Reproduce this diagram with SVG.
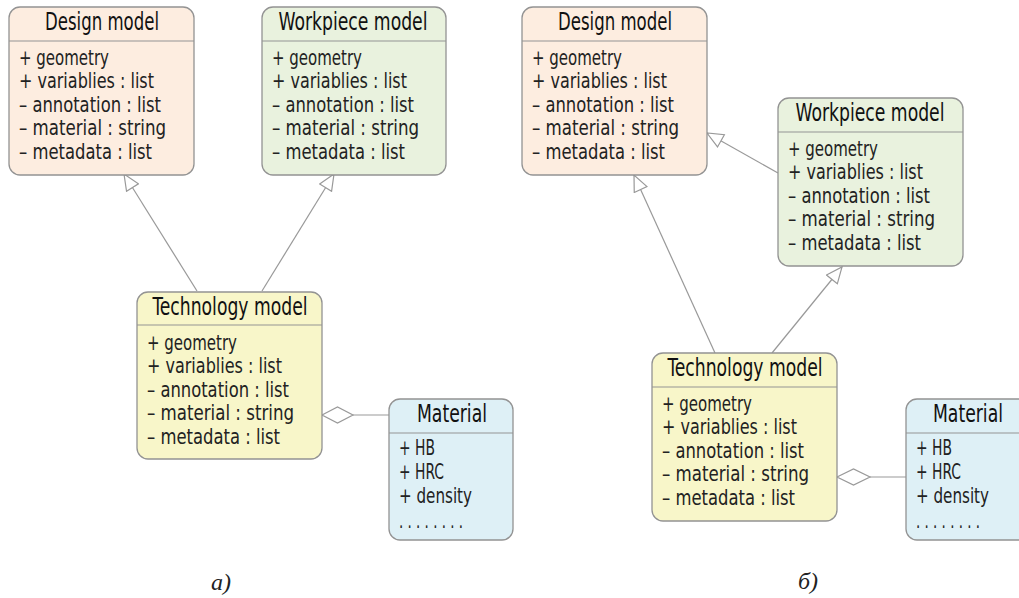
<svg xmlns="http://www.w3.org/2000/svg" width="1019" height="598" viewBox="0 0 1019 598">
<style>
.box{stroke:#939393;stroke-width:1.3}
.sep{stroke:#939393;stroke-width:1.2}
.design{fill:#fdede0}
.work{fill:#e9f2de}
.tech{fill:#f8f6c9}
.mat{fill:#def0f6}
.title{font-family:"DejaVu Sans Condensed","Liberation Sans Narrow","Liberation Sans",sans-serif;font-size:24px;fill:#111;text-anchor:middle}
.row{font-family:"DejaVu Sans Condensed","Liberation Sans Narrow","Liberation Sans",sans-serif;font-size:22px;fill:#222}
.conn line{stroke:#999;stroke-width:1.2;fill:none}
.dia{fill:#fff;stroke:#999;stroke-width:1.2}
.cap{font-family:"Liberation Serif",serif;font-style:italic;font-size:24px;fill:#222}
</style>
<defs>
<marker id="tri" markerUnits="userSpaceOnUse" viewBox="0 0 18 16" markerWidth="18" markerHeight="16" refX="17" refY="8" orient="auto">
<path d="M1,1 L17,8 L1,15 Z" fill="#fff" stroke="#999" stroke-width="1.2"/>
</marker>
</defs>

<g id="connectors" class="conn">
<line x1="197" y1="291" x2="124" y2="174" marker-end="url(#tri)"/>
<line x1="262" y1="291" x2="334" y2="174" marker-end="url(#tri)"/>
<line x1="353" y1="415" x2="389" y2="415"/>
<polygon class="dia" points="322,415 337.5,407 353,415 337.5,423"/>
<line x1="715" y1="353" x2="634" y2="175" marker-end="url(#tri)"/>
<line x1="778" y1="173" x2="707" y2="133" marker-end="url(#tri)"/>
<line x1="772" y1="353" x2="842" y2="267" marker-end="url(#tri)"/>
<line x1="870" y1="477" x2="906" y2="477"/>
<polygon class="dia" points="837,477 853.5,469 870,477 853.5,485"/>
</g>

<g id="design-a">
<rect class="box design" x="9" y="7" width="185" height="168" rx="11"/>
<line class="sep" x1="9" y1="41" x2="194" y2="41"/>
<text class="title" x="102" y="30" textLength="114" lengthAdjust="spacingAndGlyphs">Design model</text>
<text class="row" x="19" y="65" textLength="90" lengthAdjust="spacingAndGlyphs">+ geometry</text>
<text class="row" x="19" y="88" textLength="135" lengthAdjust="spacingAndGlyphs">+ variablies : list</text>
<text class="row" x="19" y="112" textLength="142" lengthAdjust="spacingAndGlyphs">– annotation : list</text>
<text class="row" x="19" y="135" textLength="147" lengthAdjust="spacingAndGlyphs">– material : string</text>
<text class="row" x="19" y="159" textLength="133" lengthAdjust="spacingAndGlyphs">– metadata : list</text>
</g>

<g id="workpiece-a">
<rect class="box work" x="262" y="7" width="184" height="168" rx="11"/>
<line class="sep" x1="262" y1="41" x2="446" y2="41"/>
<text class="title" x="353" y="30" textLength="149" lengthAdjust="spacingAndGlyphs">Workpiece model</text>
<text class="row" x="272" y="65" textLength="90" lengthAdjust="spacingAndGlyphs">+ geometry</text>
<text class="row" x="272" y="88" textLength="135" lengthAdjust="spacingAndGlyphs">+ variablies : list</text>
<text class="row" x="272" y="112" textLength="142" lengthAdjust="spacingAndGlyphs">– annotation : list</text>
<text class="row" x="272" y="135" textLength="147" lengthAdjust="spacingAndGlyphs">– material : string</text>
<text class="row" x="272" y="159" textLength="133" lengthAdjust="spacingAndGlyphs">– metadata : list</text>
</g>

<g id="technology-a">
<rect class="box tech" x="137" y="292" width="185" height="167" rx="11"/>
<line class="sep" x1="137" y1="325" x2="322" y2="325"/>
<text class="title" x="230" y="315" textLength="155" lengthAdjust="spacingAndGlyphs">Technology model</text>
<text class="row" x="147" y="350" textLength="90" lengthAdjust="spacingAndGlyphs">+ geometry</text>
<text class="row" x="147" y="373" textLength="135" lengthAdjust="spacingAndGlyphs">+ variablies : list</text>
<text class="row" x="147" y="397" textLength="142" lengthAdjust="spacingAndGlyphs">– annotation : list</text>
<text class="row" x="147" y="420" textLength="147" lengthAdjust="spacingAndGlyphs">– material : string</text>
<text class="row" x="147" y="444" textLength="133" lengthAdjust="spacingAndGlyphs">– metadata : list</text>
</g>

<g id="material-a">
<rect class="box mat" x="389" y="399" width="124" height="141" rx="11"/>
<line class="sep" x1="389" y1="433" x2="513" y2="433"/>
<text class="title" x="452" y="422" textLength="70" lengthAdjust="spacingAndGlyphs">Material</text>
<text class="row" x="399" y="455" textLength="36" lengthAdjust="spacingAndGlyphs">+ HB</text>
<text class="row" x="399" y="479" textLength="45" lengthAdjust="spacingAndGlyphs">+ HRC</text>
<text class="row" x="399" y="503" textLength="73" lengthAdjust="spacingAndGlyphs">+ density</text>
<text class="row" x="399" y="528" textLength="64" lengthAdjust="spacingAndGlyphs">. . . . . . . .</text>
</g>

<g id="design-b">
<rect class="box design" x="522" y="7" width="185" height="168" rx="11"/>
<line class="sep" x1="522" y1="41" x2="707" y2="41"/>
<text class="title" x="615" y="30" textLength="114" lengthAdjust="spacingAndGlyphs">Design model</text>
<text class="row" x="532" y="65" textLength="90" lengthAdjust="spacingAndGlyphs">+ geometry</text>
<text class="row" x="532" y="88" textLength="135" lengthAdjust="spacingAndGlyphs">+ variablies : list</text>
<text class="row" x="532" y="112" textLength="142" lengthAdjust="spacingAndGlyphs">– annotation : list</text>
<text class="row" x="532" y="135" textLength="147" lengthAdjust="spacingAndGlyphs">– material : string</text>
<text class="row" x="532" y="159" textLength="133" lengthAdjust="spacingAndGlyphs">– metadata : list</text>
</g>

<g id="workpiece-b">
<rect class="box work" x="778" y="98" width="185" height="168" rx="11"/>
<line class="sep" x1="778" y1="132" x2="963" y2="132"/>
<text class="title" x="870" y="121" textLength="149" lengthAdjust="spacingAndGlyphs">Workpiece model</text>
<text class="row" x="788" y="156" textLength="90" lengthAdjust="spacingAndGlyphs">+ geometry</text>
<text class="row" x="788" y="179" textLength="135" lengthAdjust="spacingAndGlyphs">+ variablies : list</text>
<text class="row" x="788" y="203" textLength="142" lengthAdjust="spacingAndGlyphs">– annotation : list</text>
<text class="row" x="788" y="226" textLength="147" lengthAdjust="spacingAndGlyphs">– material : string</text>
<text class="row" x="788" y="250" textLength="133" lengthAdjust="spacingAndGlyphs">– metadata : list</text>
</g>

<g id="technology-b">
<rect class="box tech" x="652" y="353" width="185" height="168" rx="11"/>
<line class="sep" x1="652" y1="387" x2="837" y2="387"/>
<text class="title" x="745" y="376" textLength="155" lengthAdjust="spacingAndGlyphs">Technology model</text>
<text class="row" x="662" y="411" textLength="90" lengthAdjust="spacingAndGlyphs">+ geometry</text>
<text class="row" x="662" y="434" textLength="135" lengthAdjust="spacingAndGlyphs">+ variablies : list</text>
<text class="row" x="662" y="458" textLength="142" lengthAdjust="spacingAndGlyphs">– annotation : list</text>
<text class="row" x="662" y="481" textLength="147" lengthAdjust="spacingAndGlyphs">– material : string</text>
<text class="row" x="662" y="505" textLength="133" lengthAdjust="spacingAndGlyphs">– metadata : list</text>
</g>

<g id="material-b">
<rect class="box mat" x="906" y="399" width="124" height="141" rx="11"/>
<line class="sep" x1="906" y1="433" x2="1030" y2="433"/>
<text class="title" x="968" y="422" textLength="70" lengthAdjust="spacingAndGlyphs">Material</text>
<text class="row" x="916" y="455" textLength="36" lengthAdjust="spacingAndGlyphs">+ HB</text>
<text class="row" x="916" y="479" textLength="45" lengthAdjust="spacingAndGlyphs">+ HRC</text>
<text class="row" x="916" y="503" textLength="73" lengthAdjust="spacingAndGlyphs">+ density</text>
<text class="row" x="916" y="528" textLength="64" lengthAdjust="spacingAndGlyphs">. . . . . . . .</text>
</g>

<text class="cap" x="211" y="590">а)</text>
<text class="cap" x="798" y="589">б)</text>
</svg>
